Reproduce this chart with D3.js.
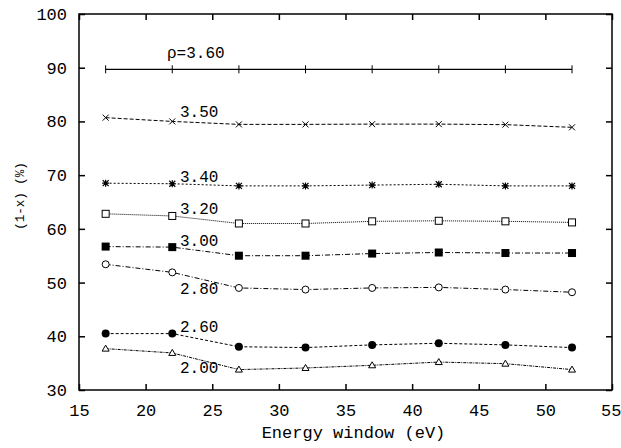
<!DOCTYPE html>
<html><head><meta charset="utf-8">
<script src="https://cdn.jsdelivr.net/npm/d3@7"></script>
<style>body{margin:0;background:#fff}svg{display:block}text{font-family:"Liberation Mono","DejaVu Sans Mono",monospace;fill:#000}</style>
</head><body><svg id="c" width="621" height="448"></svg>
<script>
const energies = [17, 22, 27, 32, 37, 42, 47, 52];
const rho360 = [89.7, 89.7, 89.7, 89.7, 89.7, 89.7, 89.7, 89.7];
const rho350 = [80.7, 80.0, 79.45, 79.45, 79.5, 79.5, 79.4, 78.9];
const rho340 = [68.5, 68.4, 68.0, 68.0, 68.15, 68.3, 68.0, 68.0];
const rho320 = [62.8, 62.4, 61.0, 61.0, 61.4, 61.5, 61.4, 61.2];
const rho300 = [56.7, 56.6, 55.0, 55.0, 55.4, 55.6, 55.5, 55.5];
const rho280 = [53.4, 51.9, 49.0, 48.7, 49.0, 49.1, 48.7, 48.2];
const rho260 = [40.5, 40.5, 38.05, 37.9, 38.4, 38.7, 38.4, 37.9];
const rho200 = [37.7, 36.9, 33.8, 34.1, 34.6, 35.2, 34.9, 33.8];
const seriesLabels = ["ρ=3.60", "3.50", "3.40", "3.20", "3.00", "2.80", "2.60", "2.00"];
const xTicks = [15, 20, 25, 30, 35, 40, 45, 50, 55];
const yTicks = [30, 40, 50, 60, 70, 80, 90, 100];
const xTitle = "Energy window (eV)";
const yTitle = "(1-x) (%)";

const series = [
  {label: seriesLabels[0], vals: rho360, marker: "plus", dash: null, lx: 167, ly: 89.7, dy: -11},
  {label: seriesLabels[1], vals: rho350, marker: "cross", dash: "4,2", lx: 180, ly: 80.0, dy: -4},
  {label: seriesLabels[2], vals: rho340, marker: "star", dash: "2,2", lx: 180, ly: 68.4, dy: -2},
  {label: seriesLabels[3], vals: rho320, marker: "sqOpen", dash: "1,1", lx: 180, ly: 62.4, dy: -2},
  {label: seriesLabels[4], vals: rho300, marker: "sqFill", dash: "5,2,1,2", lx: 180, ly: 56.6, dy: -1},
  {label: seriesLabels[5], vals: rho280, marker: "circOpen", dash: "5,2,1,2", lx: 180, ly: 49.0, dy: 6},
  {label: seriesLabels[6], vals: rho260, marker: "circFill", dash: "3,2", lx: 180, ly: 40.5, dy: -2},
  {label: seriesLabels[7], vals: rho200, marker: "triOpen", dash: "3,1,1,1", lx: 180, ly: 33.8, dy: 3}
];

const svg = d3.select("#c");
const L = 79, R = 612, T = 14, B = 390;
const x = d3.scaleLinear().domain([15, 55]).range([L, R]);
const y = d3.scaleLinear().domain([30, 100]).range([B, T]);

svg.append("rect").attr("x", L).attr("y", T).attr("width", R - L).attr("height", B - T)
  .attr("fill", "none").attr("stroke", "#000").attr("stroke-width", 1.5);

const tl = 6;
const gx = svg.append("g").attr("transform", `translate(0,${B})`)
  .call(d3.axisBottom(x).tickValues(xTicks).tickSize(-tl).tickPadding(14).tickFormat(d3.format("d")));
const gxt = svg.append("g").attr("transform", `translate(0,${T})`)
  .call(d3.axisTop(x).tickValues(xTicks).tickSize(-tl).tickFormat(""));
const gy = svg.append("g").attr("transform", `translate(${L},0)`)
  .call(d3.axisLeft(y).tickValues(yTicks).tickSize(-tl).tickPadding(12).tickFormat(d3.format("d")));
const gyr = svg.append("g").attr("transform", `translate(${R},0)`)
  .call(d3.axisRight(y).tickValues(yTicks).tickSize(-tl).tickFormat(""));
[gx, gxt, gy, gyr].forEach(g => {
  g.select(".domain").remove();
  g.selectAll(".tick line").attr("stroke", "#000").attr("stroke-width", 1.5);
  g.selectAll("text").style("font-size", "17px").style("font-family", '"Liberation Mono", monospace');
});
gx.selectAll(".tick text").attr("dy", "0.71em");
gx.selectAll(".tick").filter(d => d === 55).select("text").attr("text-anchor", "end").attr("x", 9);

svg.append("text").attr("x", (L + R) / 2 + 8).attr("y", 438).attr("text-anchor", "middle")
  .style("font-size", "17px").text(xTitle);
svg.append("text").attr("transform", `translate(24,196) rotate(-90)`).attr("text-anchor", "middle")
  .style("font-size", "12.5px").text(yTitle);

const line = d3.line().x((d, i) => x(energies[i])).y(d => y(d));

series.forEach(s => {
  svg.append("path").datum(s.vals).attr("d", line).attr("fill", "none")
    .attr("stroke", "#000").attr("stroke-width", s.dash ? 1 : 1.3)
    .attr("stroke-dasharray", s.dash);
  const g = svg.append("g");
  s.vals.forEach((v, i) => {
    const cx = x(energies[i]), cy = y(v);
    const m = g.append("g").attr("transform", `translate(${cx},${cy})`);
    switch (s.marker) {
      case "plus":
        m.append("path").attr("d", "M0,-4V4").attr("stroke", "#000").attr("stroke-width", 1);
        break;
      case "cross":
        m.append("path").attr("d", "M-3,-3L3,3M-3,3L3,-3").attr("stroke", "#000").attr("stroke-width", 1);
        break;
      case "star":
        m.append("path").attr("d", "M-3,-3L3,3M-3,3L3,-3M0,-3.5V3.5M-3.5,0H3.5").attr("stroke", "#000").attr("stroke-width", 1.2);
        break;
      case "sqOpen":
        m.append("rect").attr("x", -3.5).attr("y", -3.5).attr("width", 7).attr("height", 7)
          .attr("fill", "#fff").attr("stroke", "#000").attr("stroke-width", 1);
        break;
      case "sqFill":
        m.append("rect").attr("x", -4).attr("y", -4).attr("width", 8).attr("height", 8).attr("fill", "#000");
        break;
      case "circOpen":
        m.append("circle").attr("r", 3.5).attr("fill", "#fff").attr("stroke", "#000").attr("stroke-width", 1);
        break;
      case "circFill":
        m.append("circle").attr("r", 4).attr("fill", "#000");
        break;
      case "triOpen":
        m.append("path").attr("d", "M0,-3.5L3.5,2.5L-3.5,2.5Z").attr("fill", "#fff").attr("stroke", "#000").attr("stroke-width", 1);
        break;
    }
  });
  svg.append("text").attr("x", s.lx).attr("y", y(s.ly) + s.dy)
    .style("font-size", "16px").text(s.label);
});
</script></body></html>
